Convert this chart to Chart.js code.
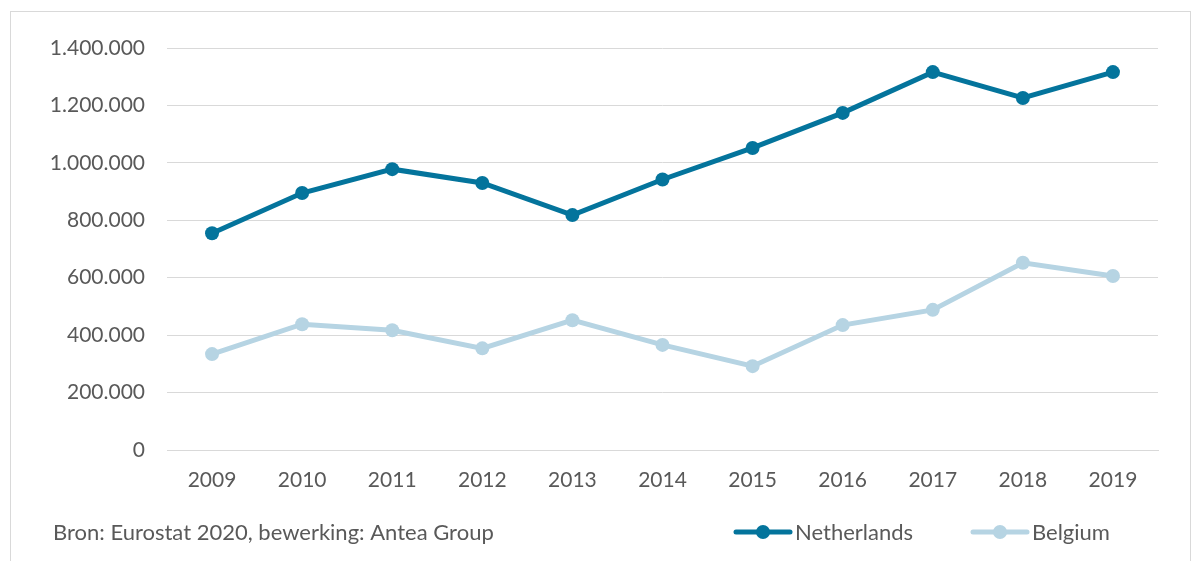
<!DOCTYPE html>
<html>
<head>
<meta charset="utf-8">
<script src="https://cdn.jsdelivr.net/npm/chart.js@4.4.1/dist/chart.umd.min.js"></script>
<style>
  html, body { margin: 0; padding: 0; background: #fff; }
  #wrap { position: relative; width: 1198px; height: 561px; overflow: hidden; }
  #frame { position: absolute; left: 10px; top: 11px; width: 1181px; height: 600px; border: 1px solid #D9D9D9; box-sizing: border-box; }
  canvas { position: absolute; left: 0; top: 0; }
</style>
</head>
<body>
<div id="wrap">
  <div id="frame"></div>
  <canvas id="c" width="1198" height="561"></canvas>
</div>
<script>
const categories = ['2009','2010','2011','2012','2013','2014','2015','2016','2017','2018','2019'];
const netherlands = [755000, 895000, 978000, 930000, 818000, 942000, 1052000, 1174000, 1316000, 1226000, 1316000];
const belgium = [334000, 438000, 417000, 354000, 452000, 366000, 292000, 435000, 488000, 652000, 606000];
const sourceText = 'Bron: Eurostat 2020, bewerking: Antea Group';

const FONT = 'Lato, "Open Sans", sans-serif';
const TEXT = '#595959';

function fmt(v) {
  return String(v).replace(/\B(?=(\d{3})+(?!\d))/g, '.');
}

const legendPlugin = {
  id: 'customLegend',
  afterDraw(chart) {
    const ctx = chart.ctx;
    ctx.save();
    ctx.font = '22px ' + FONT;
    ctx.fillStyle = TEXT;
    ctx.textBaseline = 'middle';
    ctx.textAlign = 'left';
    ctx.fillText(sourceText, 53, 533);
    const items = [{x: 736, ds: chart.data.datasets[0]}, {x: 973, ds: chart.data.datasets[1]}];
    items.forEach(it => {
      const y = 532;
      ctx.strokeStyle = it.ds.borderColor;
      ctx.lineWidth = 5;
      ctx.lineCap = 'round';
      ctx.beginPath();
      ctx.moveTo(it.x, y);
      ctx.lineTo(it.x + 54, y);
      ctx.stroke();
      ctx.fillStyle = it.ds.backgroundColor;
      ctx.beginPath();
      ctx.arc(it.x + 27, y, 7, 0, Math.PI * 2);
      ctx.fill();
      ctx.fillStyle = TEXT;
      ctx.fillText(it.ds.label, it.x + 59, 533);
    });
    ctx.restore();
  }
};

new Chart(document.getElementById('c'), {
  type: 'line',
  data: {
    labels: categories,
    datasets: [
      { label: 'Netherlands', data: netherlands, borderColor: '#04749C', backgroundColor: '#04749C',
        borderWidth: 5, pointRadius: 7, pointHoverRadius: 7, pointBorderWidth: 0, tension: 0 },
      { label: 'Belgium', data: belgium, borderColor: '#B6D4E3', backgroundColor: '#B6D4E3',
        borderWidth: 5, pointRadius: 7, pointHoverRadius: 7, pointBorderWidth: 0, tension: 0 }
    ]
  },
  options: {
    responsive: false,
    animation: false,
    events: [],
    layout: { padding: { top: 48, right: 40, left: 0, bottom: 0 } },
    plugins: { legend: { display: false }, tooltip: { enabled: false } },
    scales: {
      x: {
        offset: true,
        grid: { display: false, drawTicks: false },
        border: { display: true, color: '#D9D9D9', width: 1 },
        ticks: { color: TEXT, font: { family: FONT, size: 21 }, padding: 18, maxRotation: 0 },
        afterFit(scale) { scale.height = 111; }
      },
      y: {
        min: 0, max: 1400000,
        grid: { color: '#D9D9D9', lineWidth: 1, drawTicks: false },
        border: { display: false },
        ticks: { stepSize: 200000, color: TEXT, font: { family: FONT, size: 21 }, padding: 22,
          callback: v => fmt(v) },
        afterFit(scale) { scale.width = 167; }
      }
    }
  },
  plugins: [legendPlugin]
});
</script>
</body>
</html>
